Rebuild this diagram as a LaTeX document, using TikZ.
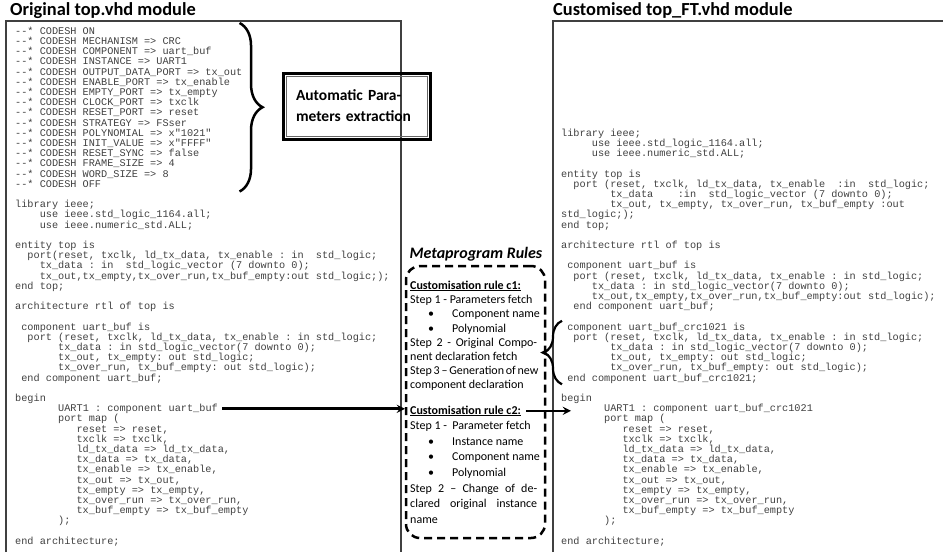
\documentclass[tikz,border=0pt]{standalone}
\usepackage{fontspec}
\setmainfont{Carlito}
\setmonofont{Liberation Mono}
\usepackage{tikz}
\usetikzlibrary{arrows, decorations.pathreplacing, calc}
\tikzstyle{arrow} = [line width=2.6pt,->,>=stealth]
\tikzstyle{codeblock} = [inner sep=0pt, anchor=north west, align=left, text=black!75, font=\ttfamily\fontsize{10.23}{10.2}\selectfont]
\tikzstyle{codeline} = [inner sep=0pt, anchor=base west, text=black!75, font=\ttfamily\fontsize{10.23}{10.2}\selectfont]
\tikzstyle{panel} = [line width=1.1pt, draw=black!75]
\tikzstyle{paneltitle} = [inner sep=0pt, anchor=base west, font=\bfseries\fontsize{18.4}{22}\selectfont]
\tikzstyle{rulehead} = [inner sep=0pt, anchor=base west, font=\bfseries\fontsize{12}{14}\selectfont]
\tikzstyle{rulesteps} = [inner sep=0pt, anchor=north west, align=left]
\tikzstyle{bracket} = [decorate, line width=2.5pt]

\newlength{\cw}\setlength{\cw}{6.14pt}
\newcommand{\codeind}[1]{\hspace*{#1\cw}}
\newcommand{\topstrut}{\rule{0pt}{8pt}}
\newcommand{\stepstrut}{\rule{0pt}{9pt}}
\newcommand{\bul}{\hspace*{18pt}\makebox[24pt][l]{\textbullet}}
\newcommand{\jline}[1]{\makebox[127pt][s]{#1}}

\begin{document}
\begin{tikzpicture}[x=1pt, y=-1pt]
\useasboundingbox (0,0) rectangle (943,552);

\draw[panel] (6,552) -- (6,21) -- (401,21) -- (401,552);
\draw[panel] (553,552) -- (553,21) -- (943,21);
\node (origTitle)[paneltitle] at (10,15) {Original top.vhd module};
\node (custTitle)[paneltitle] at (553,15) {Customised top\_FT.vhd module};

\node (codeshL)[codeblock] at (15,26) {\topstrut-{}-* CODESH ON\\
-{}-* CODESH MECHANISM => CRC\\
-{}-* CODESH COMPONENT => uart\_buf\\
-{}-* CODESH INSTANCE => UART1\\
-{}-* CODESH OUTPUT\_DATA\_PORT => tx\_out\\
-{}-* CODESH ENABLE\_PORT => tx\_enable\\
-{}-* CODESH EMPTY\_PORT => tx\_empty\\
-{}-* CODESH CLOCK\_PORT => txclk\\
-{}-* CODESH RESET\_PORT => reset\\
-{}-* CODESH STRATEGY => FSser\\
-{}-* CODESH POLYNOMIAL => x"1021"\\
-{}-* CODESH INIT\_VALUE => x"FFFF"\\
-{}-* CODESH RESET\_SYNC => false\\
-{}-* CODESH FRAME\_SIZE => 4\\
-{}-* CODESH WORD\_SIZE => 8\\
-{}-* CODESH OFF};

\node (declL)[codeblock] at (15,199.4) {\topstrut library ieee;\\
\codeind{4}use ieee.std\_logic\_1164.all;\\
\codeind{4}use ieee.numeric\_std.ALL;\\[10.2pt]
entity top is\\
\codeind{2}port(reset, txclk, ld\_tx\_data, tx\_enable : in~~std\_logic;\\
\codeind{4}tx\_data : in~~std\_logic\_vector (7 downto 0);\\
\codeind{4}tx\_out,tx\_empty,tx\_over\_run,tx\_buf\_empty:out std\_logic;);\\
end top;\\[10.2pt]
architecture rtl of top is\\[10.2pt]
\codeind{1}component uart\_buf is\\
\codeind{2}port (reset, txclk, ld\_tx\_data, tx\_enable : in std\_logic;\\
\codeind{7}tx\_data : in std\_logic\_vector(7 downto 0);\\
\codeind{7}tx\_out, tx\_empty: out std\_logic;\\
\codeind{7}tx\_over\_run, tx\_buf\_empty: out std\_logic);\\
\codeind{1}end component uart\_buf;\\[10.2pt]
begin};
\node (uartL)[codeline] at (58,411.4) {UART1 : component uart\_buf};
\node (mapL)[codeblock] at (15,413.6) {\topstrut\codeind{7}port map (\\
\codeind{10}reset => reset,\\
\codeind{10}txclk => txclk,\\
\codeind{10}ld\_tx\_data => ld\_tx\_data,\\
\codeind{10}tx\_data => tx\_data,\\
\codeind{10}tx\_enable => tx\_enable,\\
\codeind{10}tx\_out => tx\_out,\\
\codeind{10}tx\_empty => tx\_empty,\\
\codeind{10}tx\_over\_run => tx\_over\_run,\\
\codeind{10}tx\_buf\_empty => tx\_buf\_empty\\
\codeind{7});\\[10.2pt]
end architecture;};

\node (autoBox)[draw, line width=3pt, minimum width=147pt, minimum height=66pt, text width=122pt, align=left, inner xsep=12pt, font=\bfseries\fontsize{15.5}{21}\selectfont] at (357,106) {Automatic Para-\\meters extraction};
\draw[line width=0.6pt, black!60] ([shift={(4.5pt,4.5pt)}]autoBox.south west) rectangle ([shift={(-4.5pt,-4.5pt)}]autoBox.north east);
\draw[bracket, decoration={brace, amplitude=23pt}] ([xshift=-3pt, yshift=3pt]codeshL.north east) -- ([xshift=-3pt, yshift=-4pt]codeshL.south east);

\node (metaTitle)[inner sep=0pt, anchor=base, font=\bfseries\itshape\fontsize{16}{19}\selectfont] at (476,258) {Metaprogram Rules};
\node (rulesBox)[draw, line width=2.5pt, dash pattern=on 8pt off 5pt, rounded corners=14pt, minimum width=139pt, minimum height=272pt] at (475.5,402) {};
\node (rule1)[rulehead] at (410,289) {\underline{Customisation rule c1:}};
\node (steps1)[rulesteps, font=\fontsize{12}{14.2}\selectfont] at (410,294.5) {\stepstrut Step 1 - Parameters fetch\\
\bul Component name\\
\bul Polynomial\\
\jline{Step 2 - Original Compo-}\\
nent declaration fetch\\
\jline{Step 3 \textendash{} Generation of new}\\
component declaration};
\node (rule2)[rulehead] at (410,414) {\underline{Customisation rule c2:}};
\node (steps2)[rulesteps, font=\fontsize{12}{15.6}\selectfont] at (410,420.5) {\stepstrut Step 1 -~~Parameter fetch\\
\bul Instance name\\
\bul Component name\\
\bul Polynomial\\
\jline{Step 2 \textendash{} Change of de-}\\
\jline{clared original instance}\\
name};

\node (declR)[codeblock] at (561,128) {\topstrut library ieee;\\
\codeind{5}use ieee.std\_logic\_1164.all;\\
\codeind{5}use ieee.numeric\_std.ALL;\\[10.2pt]
entity top is\\
\codeind{2}port (reset, txclk, ld\_tx\_data, tx\_enable~~:in~~std\_logic;\\
\codeind{8}tx\_data~~~~:in~~std\_logic\_vector (7 downto 0);\\
\codeind{8}tx\_out, tx\_empty, tx\_over\_run, tx\_buf\_empty :out\\
std\_logic;);\\
end top;\\[10.2pt]
architecture rtl of top is\\[10.2pt]
\codeind{1}component uart\_buf is\\
\codeind{2}port (reset, txclk, ld\_tx\_data, tx\_enable : in std\_logic;\\
\codeind{5}tx\_data : in std\_logic\_vector(7 downto 0);\\
\codeind{5}tx\_out,tx\_empty,tx\_over\_run,tx\_buf\_empty:out std\_logic);\\
\codeind{2}end component uart\_buf;};
\node (compR)[codeblock] at (561,321.8) {\topstrut\codeind{1}component uart\_buf\_crc1021 is\\
\codeind{2}port (reset, txclk, ld\_tx\_data, tx\_enable : in std\_logic;\\
\codeind{8}tx\_data : in std\_logic\_vector(7 downto 0);\\
\codeind{8}tx\_out, tx\_empty: out std\_logic;\\
\codeind{8}tx\_over\_run, tx\_buf\_empty: out std\_logic);\\
\codeind{1}end component uart\_buf\_crc1021;};
\node (beginR)[codeline] at (561,401.2) {begin};
\node (uartR)[codeline] at (604,411.4) {UART1 : component uart\_buf\_crc1021};
\node (mapR)[codeblock] at (561,413.6) {\topstrut\codeind{7}port map (\\
\codeind{10}reset => reset,\\
\codeind{10}txclk => txclk,\\
\codeind{10}ld\_tx\_data => ld\_tx\_data,\\
\codeind{10}tx\_data => tx\_data,\\
\codeind{10}tx\_enable => tx\_enable,\\
\codeind{10}tx\_out => tx\_out,\\
\codeind{10}tx\_empty => tx\_empty,\\
\codeind{10}tx\_over\_run => tx\_over\_run,\\
\codeind{10}tx\_buf\_empty => tx\_buf\_empty\\
\codeind{7});\\[10.2pt]
end architecture;};

\draw[bracket, line width=2.2pt, decoration={brace, amplitude=18pt}] ([xshift=1pt, yshift=-1pt]compR.south west) -- ([xshift=1pt, yshift=1pt]compR.north west);
\coordinate (crcTip) at ($(compR.north west)!0.5!(compR.south west)+(-17pt,0)$);
\draw[arrow, line width=2pt] (crcTip) -- (crcTip -| steps1.east);

\draw[arrow, shorten <=4pt, shorten >=5pt] (uartL.east) -- (uartL.east -| rule2.west);
\draw[arrow, shorten <=5pt, shorten >=33pt] (rule2.east) -- (rule2.east -| uartR.west);
\end{tikzpicture}
\end{document}
